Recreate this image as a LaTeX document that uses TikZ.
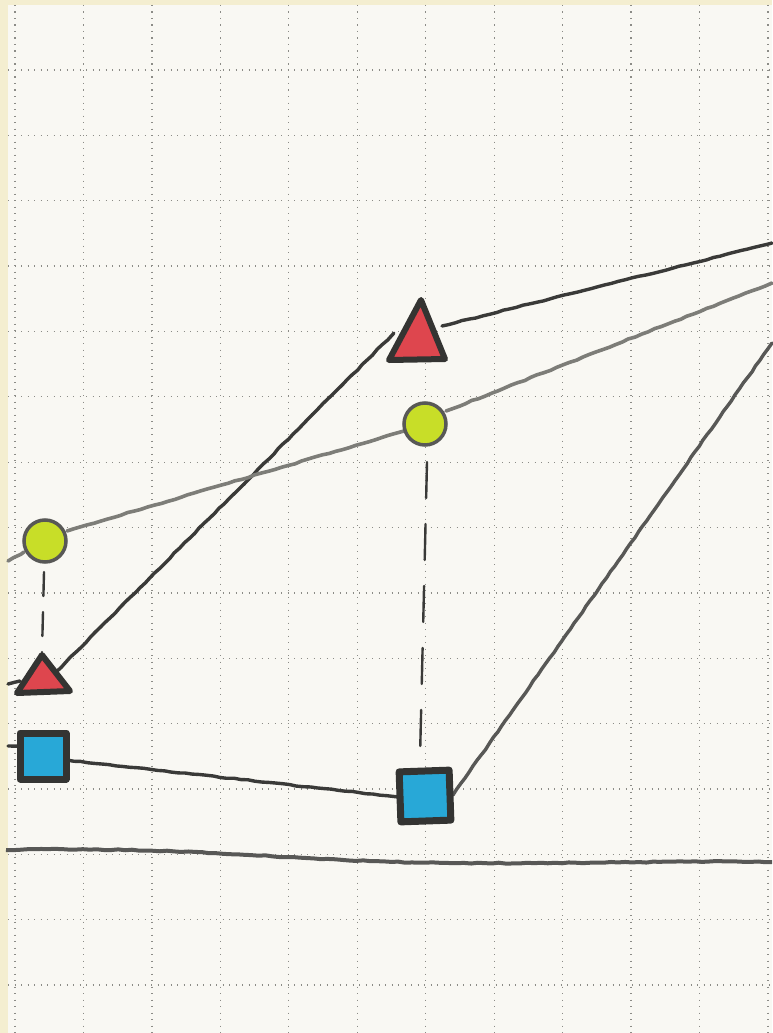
\documentclass[tikz,border=0pt]{standalone}
\usetikzlibrary{decorations.pathmorphing}
\definecolor{paper}{RGB}{249,248,243}
\definecolor{rim}{RGB}{244,238,208}
\definecolor{griddot}{RGB}{140,140,135}
\definecolor{pencil}{RGB}{58,58,56}
\definecolor{pencillight}{RGB}{125,125,120}
\definecolor{redfill}{RGB}{222,70,78}
\definecolor{greenfill}{RGB}{200,222,40}
\definecolor{bluefill}{RGB}{40,168,215}
\tikzset{
  rough/.style={decorate,decoration={random steps,segment length=7pt,amplitude=0.5pt}},
  darkline/.style={draw=pencil,line width=3.4pt,line cap=round,rough},
  lightline/.style={draw=pencillight,line width=3.6pt,line cap=round,rough},
  gridline/.style={draw=griddot,line width=1.3pt,dash pattern=on 1.1pt off 5.4pt},
  shapeoutline/.style={draw=pencil!90!black,line width=6pt,line join=round},
  dot/.style={circle,fill=greenfill,draw=pencil!85,line width=3.5pt,minimum size=42pt,inner sep=0pt},
  sq/.style={fill=bluefill,draw=pencil!90!black,line width=7pt,line join=round,minimum size=46pt,inner sep=0pt},
  dashconn/.style={draw=pencil,line width=2.4pt,line cap=round,dash pattern=on 36pt off 26pt}
}
\begin{document}
\begin{tikzpicture}[x=1pt,y=-1pt]
\useasboundingbox (0,0) rectangle (772,1033);
\fill[rim] (0,0) rectangle (772,1033);
\fill[paper] (8,5) rectangle (772,1033);
% grid
\foreach \i in {0,...,11} {
  \draw[gridline] ({15+68.45*\i},5) -- ({15+68.45*\i},1033);
}
\foreach \j in {0,...,14} {
  \draw[gridline] (8,{70+65.36*\j}) -- (772,{70+65.36*\j});
}
% named coordinates (connector ends)
\coordinate (t1w) at (394,333);
\coordinate (t1e) at (442,326);
\coordinate (c1w) at (404,431);
\coordinate (c1e) at (446,411);
\coordinate (c1s) at (427,462);
\coordinate (c2e) at (67,531);
\coordinate (c2s) at (44,572);
\coordinate (t2n) at (42,652);
\coordinate (t2e) at (56,672);
\coordinate (s1e) at (67,760);
\coordinate (s2w) at (398,797);
\coordinate (s2e) at (453,795);
\coordinate (s2n) at (420,758);
\coordinate (r1) at (772,243);
\coordinate (r2) at (772,283);
\coordinate (r3) at (772,343);
\coordinate (l1) at (8,561);
\coordinate (l1b) at (24,552);
\coordinate (l2) at (8,684);
\coordinate (l2b) at (20,681);
\coordinate (l3) at (8,746);
\coordinate (l3b) at (20,746);
% connectors
\draw[darkline] (t2e) -- (t1w);
\draw[darkline] (t1e) -- (r1);
\draw[lightline] (c2e) -- (c1w);
\draw[lightline] (l1) -- (l1b);
\draw[lightline] (c1e) -- (r2);
\draw[darkline] (s1e) -- (s2w);
\draw[darkline,draw=pencil!85] (s2e) -- (r3);
\draw[darkline] (l2) -- (l2b);
\draw[darkline] (l3) -- (l3b);
\draw[dashconn] (c1s) -- (s2n);
\draw[draw=pencil,line width=2.4pt,line cap=round,dash pattern=on 24pt off 16pt] (c2s) -- (t2n);
% base line
\coordinate (b0) at (6,850);
\coordinate (b1) at (772,862);
\draw[draw=pencil!85,line width=4pt,rough] (b0) .. controls (200,846) and (300,862) .. (450,863) .. controls (600,864) and (700,860) .. (b1);
% shapes
\node[dot] (c1) at (425,424) {};
\node[dot] (c2) at (45,541) {};
\filldraw[fill=redfill,shapeoutline] (389,360) -- (421,300) -- (445,359) -- cycle;
\node[inner sep=0pt] (t1) at (418,340) {};
\filldraw[fill=redfill,shapeoutline] (17,693) -- (42,655) -- (70,691) -- cycle;
\node[inner sep=0pt] (t2) at (43,680) {};
\node[sq] (s1) at (43,756) {};
\node[sq,minimum size=50pt,rotate=2] (s2) at (425,796) {};
\end{tikzpicture}
\end{document}
